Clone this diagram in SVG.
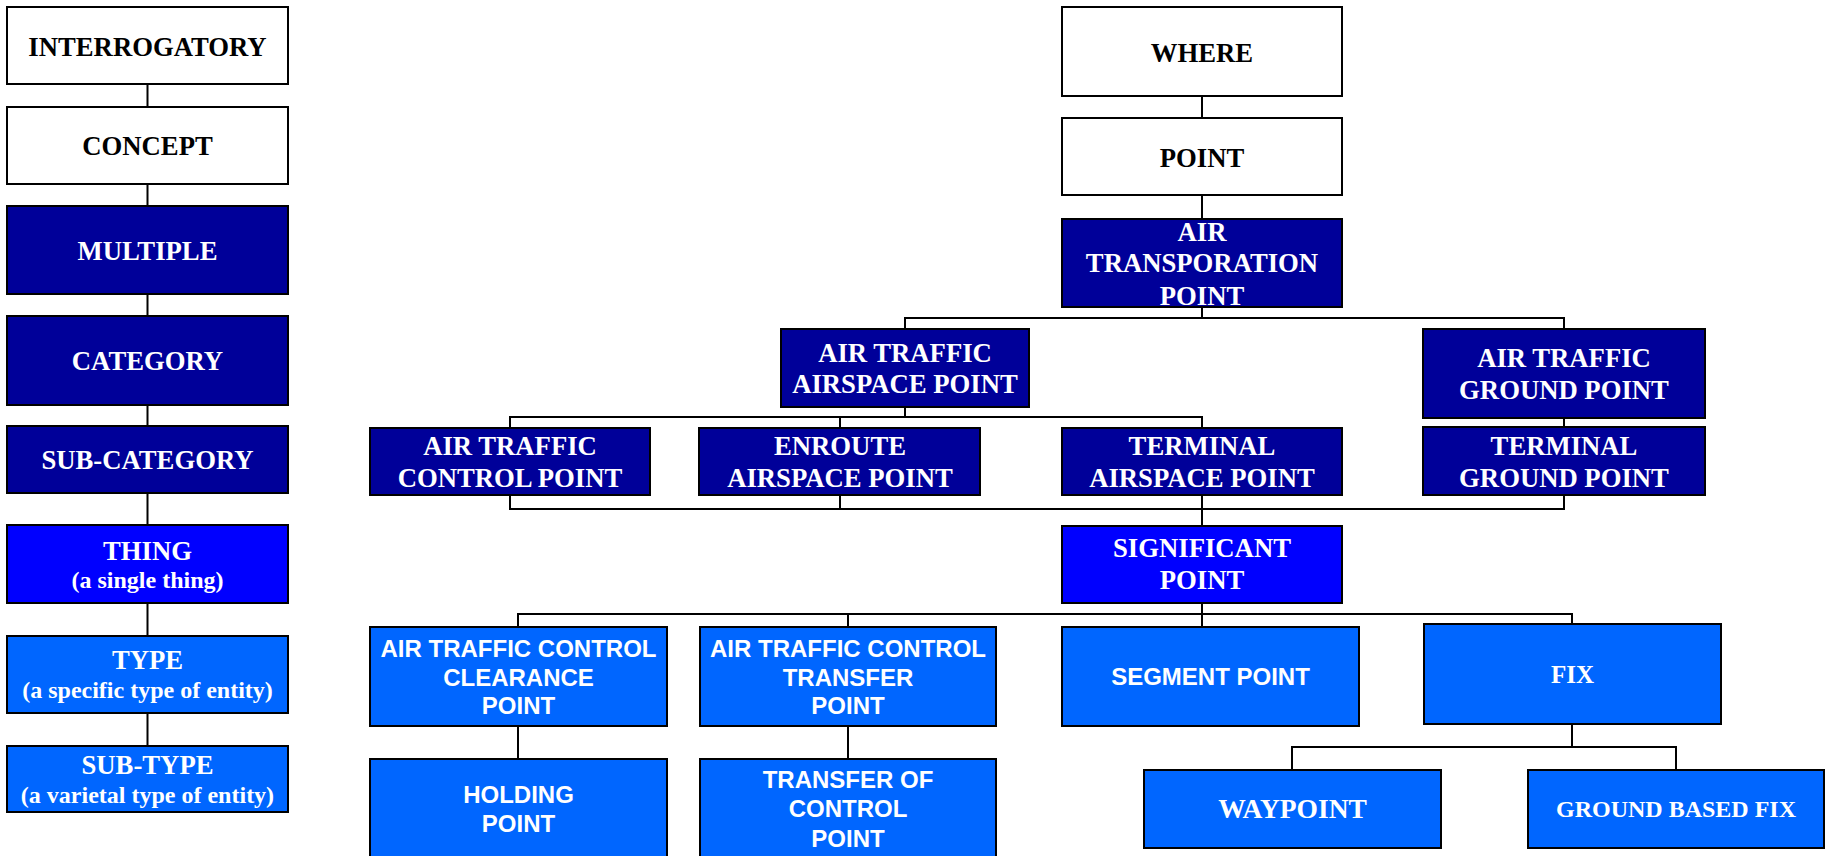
<svg xmlns="http://www.w3.org/2000/svg" width="1826" height="856" viewBox="0 0 1826 856">
  <style>
    rect { stroke: #000; stroke-width: 2; }
    .white { fill: #ffffff; }
    .dark { fill: #000099; }
    .blue { fill: #0000ff; }
    .light { fill: #0066ff; }
    text { text-anchor: middle; font-weight: bold; }
    .serif { font-family: "Liberation Serif", "Times New Roman", serif; font-size: 26.7px; }
    .sub { font-size: 24px; }
    .sans { font-family: "Liberation Sans", Arial, sans-serif; font-size: 24px; }
    .ink { fill: #000; }
    .paper { fill: #fff; }
    #connectors path { fill: none; stroke: #000; stroke-width: 2; }
  </style>

  <!-- tree lines -->
  <g id="connectors">
    <!-- legend column -->
    <path d="M147.5 84V107M147.5 184V206M147.5 294V316M147.5 405V426M147.5 493V525M147.5 603V636M147.5 713V746"/>
    <!-- where / point / air transportation point -->
    <path d="M1202 96V118M1202 195V219M1202 307V318"/>
    <path d="M905 329V318H1564V329"/>
    <!-- airspace point children -->
    <path d="M905 407V417M510 428V417H1202V428M840 417V428"/>
    <path d="M1564 418V427"/>
    <!-- merge into significant point -->
    <path d="M510 495V509H1564V495M840 495V509M1202 495V526"/>
    <!-- significant point children -->
    <path d="M1202 603V627M518 627V614H1572V624M848 614V627"/>
    <path d="M518 726V759M848 726V759"/>
    <!-- fix children -->
    <path d="M1572 724V747M1292 770V747H1676V770"/>
  </g>

  <!-- legend column -->
  <g id="interrogatory">
    <rect class="white" x="7" y="7" width="281" height="77"/>
    <text class="serif ink" x="147.5" y="56">INTERROGATORY</text>
  </g>
  <g id="concept">
    <rect class="white" x="7" y="107" width="281" height="77"/>
    <text class="serif ink" x="147.5" y="155">CONCEPT</text>
  </g>
  <g id="multiple">
    <rect class="dark" x="7" y="206" width="281" height="88"/>
    <text class="serif paper" x="147.5" y="260">MULTIPLE</text>
  </g>
  <g id="category">
    <rect class="dark" x="7" y="316" width="281" height="89"/>
    <text class="serif paper" x="147.5" y="370">CATEGORY</text>
  </g>
  <g id="sub-category">
    <rect class="dark" x="7" y="426" width="281" height="67"/>
    <text class="serif paper" x="147.5" y="469">SUB-CATEGORY</text>
  </g>
  <g id="thing">
    <rect class="blue" x="7" y="525" width="281" height="78"/>
    <text class="serif paper" x="147.5" y="560">THING</text>
    <text class="serif sub paper" x="147.5" y="588">(a single thing)</text>
  </g>
  <g id="type">
    <rect class="light" x="7" y="636" width="281" height="77"/>
    <text class="serif paper" x="147.5" y="669">TYPE</text>
    <text class="serif sub paper" x="147.5" y="698">(a specific type of entity)</text>
  </g>
  <g id="sub-type">
    <rect class="light" x="7" y="746" width="281" height="66"/>
    <text class="serif paper" x="147.5" y="774">SUB-TYPE</text>
    <text class="serif sub paper" x="147.5" y="803">(a varietal type of entity)</text>
  </g>

  <!-- point hierarchy -->
  <g id="where">
    <rect class="white" x="1062" y="7" width="280" height="89"/>
    <text class="serif ink" x="1202" y="62">WHERE</text>
  </g>
  <g id="point">
    <rect class="white" x="1062" y="118" width="280" height="77"/>
    <text class="serif ink" x="1202" y="167">POINT</text>
  </g>
  <g id="air-transporation-point">
    <rect class="dark" x="1062" y="219" width="280" height="88"/>
    <text class="serif paper" x="1202" y="241">AIR</text>
    <text class="serif paper" x="1202" y="272">TRANSPORATION</text>
    <text class="serif paper" x="1202" y="305">POINT</text>
  </g>
  <g id="air-traffic-airspace-point">
    <rect class="dark" x="781" y="329" width="248" height="78"/>
    <text class="serif paper" x="905" y="362">AIR TRAFFIC</text>
    <text class="serif paper" x="905" y="393">AIRSPACE POINT</text>
  </g>
  <g id="air-traffic-ground-point">
    <rect class="dark" x="1423" y="329" width="282" height="89"/>
    <text class="serif paper" x="1564" y="367">AIR TRAFFIC</text>
    <text class="serif paper" x="1564" y="399">GROUND POINT</text>
  </g>
  <g id="air-traffic-control-point">
    <rect class="dark" x="370" y="428" width="280" height="67"/>
    <text class="serif paper" x="510" y="455">AIR TRAFFIC</text>
    <text class="serif paper" x="510" y="487">CONTROL POINT</text>
  </g>
  <g id="enroute-airspace-point">
    <rect class="dark" x="699" y="428" width="281" height="67"/>
    <text class="serif paper" x="840" y="455">ENROUTE</text>
    <text class="serif paper" x="840" y="487">AIRSPACE POINT</text>
  </g>
  <g id="terminal-airspace-point">
    <rect class="dark" x="1062" y="428" width="280" height="67"/>
    <text class="serif paper" x="1202" y="455">TERMINAL</text>
    <text class="serif paper" x="1202" y="487">AIRSPACE POINT</text>
  </g>
  <g id="terminal-ground-point">
    <rect class="dark" x="1423" y="427" width="282" height="68"/>
    <text class="serif paper" x="1564" y="455">TERMINAL</text>
    <text class="serif paper" x="1564" y="487">GROUND POINT</text>
  </g>
  <g id="significant-point">
    <rect class="blue" x="1062" y="526" width="280" height="77"/>
    <text class="serif paper" x="1202" y="557">SIGNIFICANT</text>
    <text class="serif paper" x="1202" y="589">POINT</text>
  </g>
  <g id="atc-clearance-point">
    <rect class="light" x="370" y="627" width="297" height="99"/>
    <text class="sans paper" x="518.5" y="657">AIR TRAFFIC CONTROL</text>
    <text class="sans paper" x="518.5" y="686">CLEARANCE</text>
    <text class="sans paper" x="518.5" y="714">POINT</text>
  </g>
  <g id="atc-transfer-point">
    <rect class="light" x="700" y="627" width="296" height="99"/>
    <text class="sans paper" x="848" y="657">AIR TRAFFIC CONTROL</text>
    <text class="sans paper" x="848" y="686">TRANSFER</text>
    <text class="sans paper" x="848" y="714">POINT</text>
  </g>
  <g id="segment-point">
    <rect class="light" x="1062" y="627" width="297" height="99"/>
    <text class="sans paper" x="1210.5" y="685">SEGMENT POINT</text>
  </g>
  <g id="fix">
    <rect class="light" x="1424" y="624" width="297" height="100"/>
    <text class="serif paper" x="1572.5" y="683" style="font-size:25px">FIX</text>
  </g>
  <g id="holding-point">
    <rect class="light" x="370" y="759" width="297" height="110"/>
    <text class="sans paper" x="518.5" y="803">HOLDING</text>
    <text class="sans paper" x="518.5" y="832">POINT</text>
  </g>
  <g id="transfer-of-control-point">
    <rect class="light" x="700" y="759" width="296" height="110"/>
    <text class="sans paper" x="848" y="788">TRANSFER OF</text>
    <text class="sans paper" x="848" y="817">CONTROL</text>
    <text class="sans paper" x="848" y="847">POINT</text>
  </g>
  <g id="waypoint">
    <rect class="light" x="1144" y="770" width="297" height="78"/>
    <text class="serif paper" x="1292.5" y="818" style="font-size:27.5px">WAYPOINT</text>
  </g>
  <g id="ground-based-fix">
    <rect class="light" x="1528" y="770" width="296" height="78"/>
    <text class="serif paper" x="1676" y="817" style="font-size:24px">GROUND BASED FIX</text>
  </g>
</svg>
